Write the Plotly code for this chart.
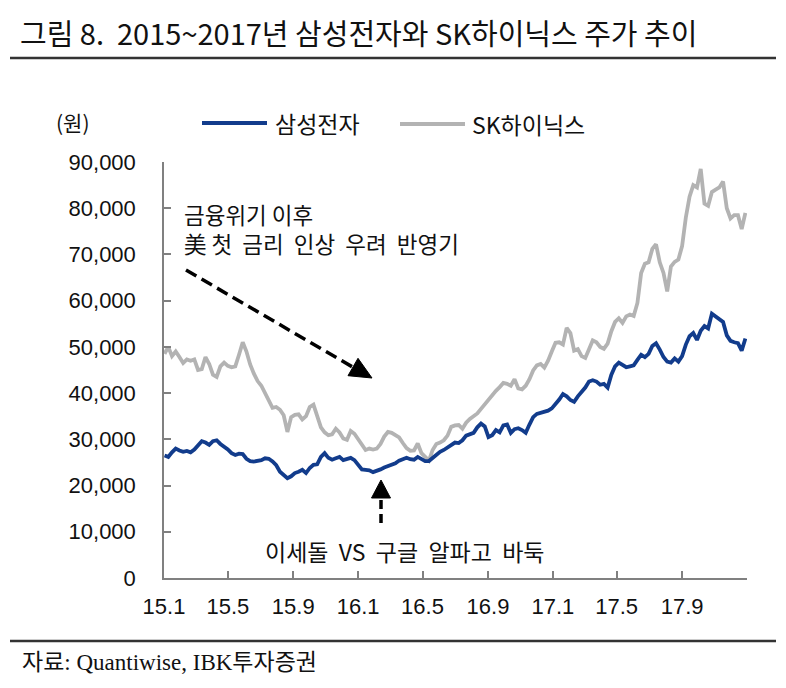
import pandas as pd
import plotly.graph_objects as go

# ---- data (weekly closes, KRW) ----
dates = pd.date_range("2015-01-02", periods=157, freq="W-FRI")

samsung = [
    26.5, 26.2, 27.2, 28.0, 27.6, 27.3, 27.5, 27.2, 27.8, 28.8,
    29.6, 29.3, 28.8, 29.6, 29.8, 29.0, 28.5, 27.8, 27.0, 26.6,
    26.9, 26.8, 25.8, 25.3, 25.2, 25.3, 25.5, 25.9, 25.8, 25.2,
    24.4, 23.0, 22.3, 21.6, 22.0, 22.7, 23.0, 23.4, 22.7, 23.8,
    24.5, 24.6, 26.2, 27.0, 26.0, 25.6, 25.9, 26.2, 25.5, 25.7,
    26.0, 25.5, 24.6, 23.5, 23.4, 23.3, 22.9, 23.1, 23.5, 23.9,
    24.2, 24.4, 24.8, 25.4, 25.7, 26.0, 25.7, 25.6, 26.2, 25.7,
    25.3, 25.3, 26.0, 26.6, 27.3, 27.7, 28.2, 28.9, 29.3, 29.2,
    29.8, 30.8, 31.1, 31.4, 32.6, 33.4, 32.8, 30.5, 30.9, 32.0,
    31.5, 33.0, 33.2, 31.4, 32.2, 32.4, 32.0, 31.4, 33.2, 34.8,
    35.5, 35.7, 35.9, 36.2, 36.7, 37.6, 38.6, 39.8, 39.3, 38.5,
    38.1, 39.3, 40.2, 41.2, 42.5, 42.8, 42.5, 41.8, 42.0, 41.2,
    44.0, 45.8, 46.6, 46.0, 45.6, 45.8, 46.0, 47.2, 48.3, 47.8,
    48.5, 50.2, 50.8, 49.4, 47.8, 46.8, 46.6, 47.5, 46.8, 48.0,
    50.5, 52.3, 53.0, 51.5, 53.5, 54.5, 54.0, 57.2, 56.6, 56.0,
    55.4, 52.5, 51.3, 51.0, 50.8, 49.2, 51.8,
]

sk_hynix = [
    48.5, 50.0, 48.0, 49.0, 47.8, 46.5, 47.3, 47.0, 47.3, 45.0,
    45.2, 47.8, 46.3, 44.0, 43.5, 45.8, 46.6, 45.9, 45.6, 45.8,
    48.3, 51.0, 49.0, 46.2, 44.2, 42.6, 41.6, 40.0, 38.8, 36.8,
    37.0, 36.4, 35.2, 31.6, 34.8, 35.3, 35.4, 34.3, 35.0, 37.0,
    37.5, 34.8, 32.6, 31.5, 30.9, 31.1, 32.3, 31.5, 30.2, 29.9,
    31.8, 31.2, 30.0, 28.8, 27.7, 28.0, 27.8, 28.0, 29.0, 30.6,
    31.6, 31.4, 30.8, 30.4, 29.2, 28.1, 27.5, 27.6, 29.1, 27.0,
    26.2, 25.4, 27.7, 29.0, 29.3, 29.8, 30.8, 32.7, 33.0, 33.1,
    32.3, 33.6, 34.4, 35.0, 35.6, 36.6, 37.6, 38.8, 39.7, 40.5,
    41.3, 42.2, 42.0, 41.6, 43.0, 41.0, 40.8, 41.6, 43.0, 44.9,
    46.0, 46.3, 45.5, 47.0, 49.0, 50.9, 51.0, 50.5, 54.1, 53.0,
    49.2, 49.5, 48.0, 47.6, 49.5, 51.4, 51.0, 50.0, 49.6, 50.7,
    53.4, 55.4, 56.2, 55.2, 56.6, 57.0, 56.7, 59.5, 66.0, 68.0,
    68.3, 71.2, 72.2, 68.3, 66.0, 62.0, 67.4, 68.4, 68.9, 71.8,
    78.0, 82.5, 85.0, 84.5, 88.5, 81.0, 80.5, 83.5, 84.0, 84.5,
    85.8, 80.0, 77.8, 78.5, 78.5, 75.5, 79.0,
]

samsung_won = [v * 1000 for v in samsung]
sk_hynix_won = [v * 1000 for v in sk_hynix]

x_tick_dates = ["2015-01-01", "2015-05-01", "2015-09-01", "2016-01-01", "2016-05-01",
                "2016-09-01", "2017-01-01", "2017-05-01", "2017-09-01", "2018-01-01"]
x_tick_labels = ["15.1", "15.5", "15.9", "16.1", "16.5", "16.9", "17.1", "17.5", "17.9", ""]
y_ticks = list(range(0, 90001, 10000))
y_tick_labels = [f"{v:,}" for v in y_ticks]

series_names = ["삼성전자", "SK하이닉스"]
BLUE = "#123c8c"
GREY = "#b3b3b3"
AXIS = "#808080"
FONT = "Liberation Sans, Noto Sans CJK KR, sans-serif"
KFONT = "Noto Sans CJK KR, sans-serif"

# plot area in pixels (for paper-coordinate conversion of decorations)
L, R, T, B = 164, 747, 162, 578
def px(x):
    return (x - L) / (R - L)
def py(y):
    return (B - y) / (B - T)

fig = go.Figure()
fig.add_trace(go.Scatter(x=dates, y=sk_hynix_won, mode="lines", name=series_names[1],
                         line=dict(color=GREY, width=3.8), showlegend=False))
fig.add_trace(go.Scatter(x=dates, y=samsung_won, mode="lines", name=series_names[0],
                         line=dict(color=BLUE, width=3.8), showlegend=False))

shapes = []
annotations = []

# title underline and source line
shapes.append(dict(type="line", xref="paper", yref="paper", x0=px(10), x1=px(776),
                   y0=py(58), y1=py(58), line=dict(color="#333333", width=2.5)))
shapes.append(dict(type="line", xref="paper", yref="paper", x0=px(10), x1=px(776),
                   y0=py(641), y1=py(641), line=dict(color="#333333", width=2.5)))

# legend (manual)
shapes.append(dict(type="line", xref="paper", yref="paper", x0=px(202), x1=px(267),
                   y0=py(123), y1=py(123), line=dict(color=BLUE, width=3.8)))
shapes.append(dict(type="line", xref="paper", yref="paper", x0=px(400), x1=px(465),
                   y0=py(124), y1=py(124), line=dict(color=GREY, width=3.8)))
annotations.append(dict(text=series_names[0], xref="paper", yref="paper", x=px(273), y=py(123),
                        xanchor="left", yanchor="middle", showarrow=False,
                        font=dict(family=KFONT, size=23, color="#111111")))
annotations.append(dict(text=series_names[1], xref="paper", yref="paper", x=px(470), y=py(124),
                        xanchor="left", yanchor="middle", showarrow=False,
                        font=dict(family=KFONT, size=23, color="#111111")))
annotations.append(dict(text="(원)", xref="paper", yref="paper", x=px(73), y=py(122),
                        xanchor="center", yanchor="middle", showarrow=False,
                        font=dict(family=KFONT, size=21, color="#111111")))

# annotation texts
annotations.append(dict(text="금융위기 이후<br>美 첫  금리  인상  우려  반영기", xref="paper", yref="paper",
                        x=px(182), y=py(228.5), xanchor="left", yanchor="middle", align="left",
                        showarrow=False, font=dict(family=KFONT, size=22.5, color="#111111")))
annotations.append(dict(text="이세돌  VS  구글  알파고  바둑", xref="paper", yref="paper", x=px(405), y=py(551),
                        xanchor="center", yanchor="middle", showarrow=False,
                        font=dict(family=KFONT, size=23, color="#111111")))

# dashed arrow 1 (down-right)
shapes.append(dict(type="line", xref="paper", yref="paper", x0=px(186), y0=py(270),
                   x1=px(356), y1=py(369), line=dict(color="black", width=3.5, dash="12px,6px")))
tip = (372, 378)
p1 = (348, 375.7)
p2 = (358, 358.3)
shapes.append(dict(type="path", xref="paper", yref="paper",
                   path=f"M {px(tip[0])},{py(tip[1])} L {px(p1[0])},{py(p1[1])} L {px(p2[0])},{py(p2[1])} Z",
                   fillcolor="black", line=dict(color="black", width=1)))

# dashed arrow 2 (up)
shapes.append(dict(type="line", xref="paper", yref="paper", x0=px(381), y0=py(523),
                   x1=px(381), y1=py(497), line=dict(color="black", width=3.5, dash="9px,5px")))
shapes.append(dict(type="path", xref="paper", yref="paper",
                   path=f"M {px(381)},{py(480)} L {px(371.5)},{py(498)} L {px(390.5)},{py(498)} Z",
                   fillcolor="black", line=dict(color="black", width=1)))

# source
annotations.append(dict(text="자료: Quantiwise, IBK투자증권", xref="paper", yref="paper",
                        x=px(20), y=py(662), xanchor="left", yanchor="middle", showarrow=False,
                        font=dict(family="Liberation Serif, Noto Sans CJK KR, serif", size=23,
                                  color="#111111")))

fig.update_layout(
    width=786, height=688,
    margin=dict(l=L, r=786 - R, t=T, b=688 - B, pad=0),
    paper_bgcolor="white", plot_bgcolor="white",
    title=dict(text="그림 8.  2015~2017년 삼성전자와 SK하이닉스 주가 추이",
               x=20 / 786, xanchor="left", y=1 - 35 / 688, yanchor="middle",
               font=dict(family=KFONT, size=29, color="#111111")),
    shapes=shapes, annotations=annotations,
    showlegend=False,
)
fig.update_xaxes(type="date", range=["2015-01-01", "2018-01-01"],
                 tickvals=x_tick_dates, ticktext=x_tick_labels,
                 showgrid=False, zeroline=False, showline=True, linecolor=AXIS, linewidth=1.5,
                 ticks="inside", ticklen=7, tickcolor=AXIS, tickwidth=1.5,
                 ticklabelstandoff=8,
                 tickfont=dict(family=FONT, size=22, color="#111111"))
fig.update_yaxes(range=[0, 90000], tickvals=y_ticks, ticktext=y_tick_labels,
                 showgrid=False, zeroline=False, showline=True, linecolor=AXIS, linewidth=1.5,
                 ticks="inside", ticklen=7, tickcolor=AXIS, tickwidth=1.5,
                 ticklabelstandoff=22,
                 tickfont=dict(family=FONT, size=22, color="#111111"))

fig.write_html("out.html", config={"displayModeBar": False},
               post_script="document.body.style.margin='0px';")
